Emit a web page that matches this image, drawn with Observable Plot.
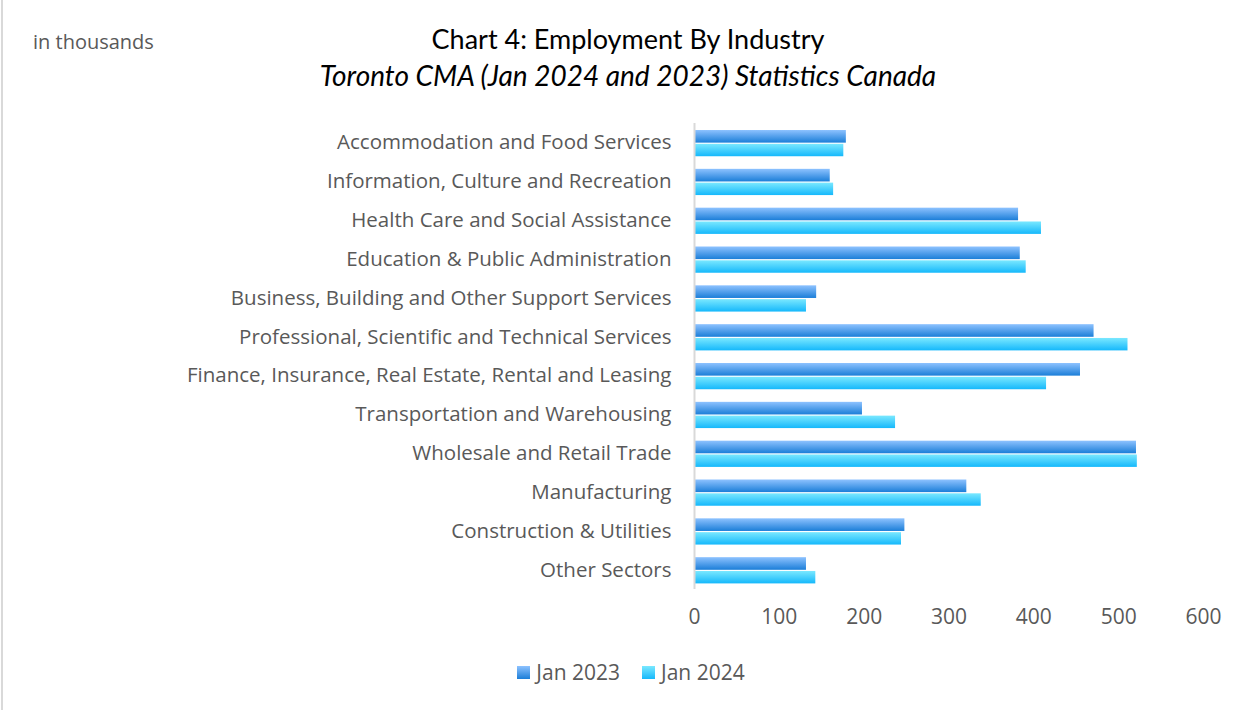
<!DOCTYPE html>
<html>
<head>
<meta charset="utf-8">
<script src="https://cdn.jsdelivr.net/npm/d3@7"></script>
<script src="https://cdn.jsdelivr.net/npm/@observablehq/plot@0.6"></script>
<style>
  html, body { margin: 0; padding: 0; background: #fff; }
  #wrap { position: relative; width: 1248px; height: 710px; overflow: hidden; font-family: "Open Sans", Lato, sans-serif; }
  #border { position: absolute; left: 1px; top: 0; width: 2px; height: 710px; background: #d9d9d9; }
  #unit { position: absolute; left: 33px; top: 28px; font-size: 20px; color: #595959; }
  #title { position: absolute; left: 0; width: 1256px; top: 22px; text-align: center; font-size: 27px; color: #000; font-family: Lato, sans-serif; }
  #subtitle { position: absolute; left: 0; width: 1256px; top: 58px; text-align: center; font-size: 28px; font-style: italic; color: #000; font-family: Lato, sans-serif; }
  #chart { position: absolute; left: 0; top: 0; }
  #legend { position: absolute; top: 658px; left: 0; width: 1262px; display: flex; justify-content: center; gap: 22px; font-size: 21px; color: #595959; }
  .item { display: flex; align-items: center; gap: 6px; }
  .sw { width: 13px; height: 13px; display: inline-block; }
</style>
</head>
<body>
<div id="wrap">
  <div id="border"></div>
  <div id="unit">in thousands</div>
  <div id="title">Chart 4: Employment By Industry</div>
  <div id="subtitle">Toronto CMA (Jan 2024 and 2023) Statistics Canada</div>
  <div id="chart"></div>
  <div id="legend"></div>
</div>
<script>
const industries = [
  "Accommodation and Food Services",
  "Information, Culture and Recreation",
  "Health Care and Social Assistance",
  "Education & Public Administration",
  "Business, Building and Other Support Services",
  "Professional, Scientific and Technical Services",
  "Finance, Insurance, Real Estate, Rental and Leasing",
  "Transportation and Warehousing",
  "Wholesale and Retail Trade",
  "Manufacturing",
  "Construction & Utilities",
  "Other Sectors"
];
const jan2023 = [179, 160, 382, 384, 144, 471, 455, 198, 521, 321, 248, 132];
const jan2024 = [176, 164, 409, 391, 132, 511, 415, 237, 522, 338, 244, 143];
const seriesNames = ["Jan 2023", "Jan 2024"];
const xTicks = [0, 100, 200, 300, 400, 500, 600];

const rows2023 = industries.map((d, i) => ({industry: d, value: jan2023[i]}));
const rows2024 = industries.map((d, i) => ({industry: d, value: jan2024[i]}));

const defs = () => {
  const svg = d3.create("svg:g");
  const d = svg.append("defs");
  const g1 = d.append("linearGradient").attr("id", "g23").attr("x1", 0).attr("x2", 0).attr("y1", 0).attr("y2", 1);
  g1.append("stop").attr("offset", "0%").attr("stop-color", "#8dc2ff");
  g1.append("stop").attr("offset", "100%").attr("stop-color", "#1b7ed8");
  const g2 = d.append("linearGradient").attr("id", "g24").attr("x1", 0).attr("x2", 0).attr("y1", 0).attr("y2", 1);
  g2.append("stop").attr("offset", "0%").attr("stop-color", "#7ae8ff");
  g2.append("stop").attr("offset", "100%").attr("stop-color", "#15b8fb");
  return svg.node();
};

const chart = Plot.plot({
  width: 1248,
  height: 710,
  marginTop: 123,
  marginBottom: 121,
  marginLeft: 694,
  marginRight: 45,
  style: {fontFamily: "'Open Sans', Lato, sans-serif", fontSize: "20.5px", color: "#595959", background: "transparent"},
  x: {domain: [0, 600], ticks: xTicks},
  y: {domain: industries, padding: 0, round: false},
  marks: [
    defs,
    Plot.barX(rows2023, {y: "industry", x: "value", fill: "url(#g23)", insetTop: 7, insetBottom: 19.2}),
    Plot.barX(rows2024, {y: "industry", x: "value", fill: "url(#g24)", insetTop: 20.8, insetBottom: 5.6}),
    Plot.ruleX([0], {stroke: "#d9d9d9", strokeWidth: 2}),
    Plot.axisX({ticks: xTicks, tickSize: 0, tickPadding: 20, label: null, fontSize: 21}),
    Plot.axisY({tickSize: 0, tickPadding: 23, label: null, fontSize: 20.5})
  ]
});
document.getElementById("chart").appendChild(chart);

const legend = document.getElementById("legend");
const grads = ["linear-gradient(#8dc2ff,#1b7ed8)", "linear-gradient(#7ae8ff,#15b8fb)"];
seriesNames.forEach((s, i) => {
  const it = document.createElement("div");
  it.className = "item";
  const sw = document.createElement("span");
  sw.className = "sw";
  sw.style.background = grads[i];
  const t = document.createElement("span");
  t.textContent = s;
  it.appendChild(sw); it.appendChild(t);
  legend.appendChild(it);
});
</script>
</body>
</html>
